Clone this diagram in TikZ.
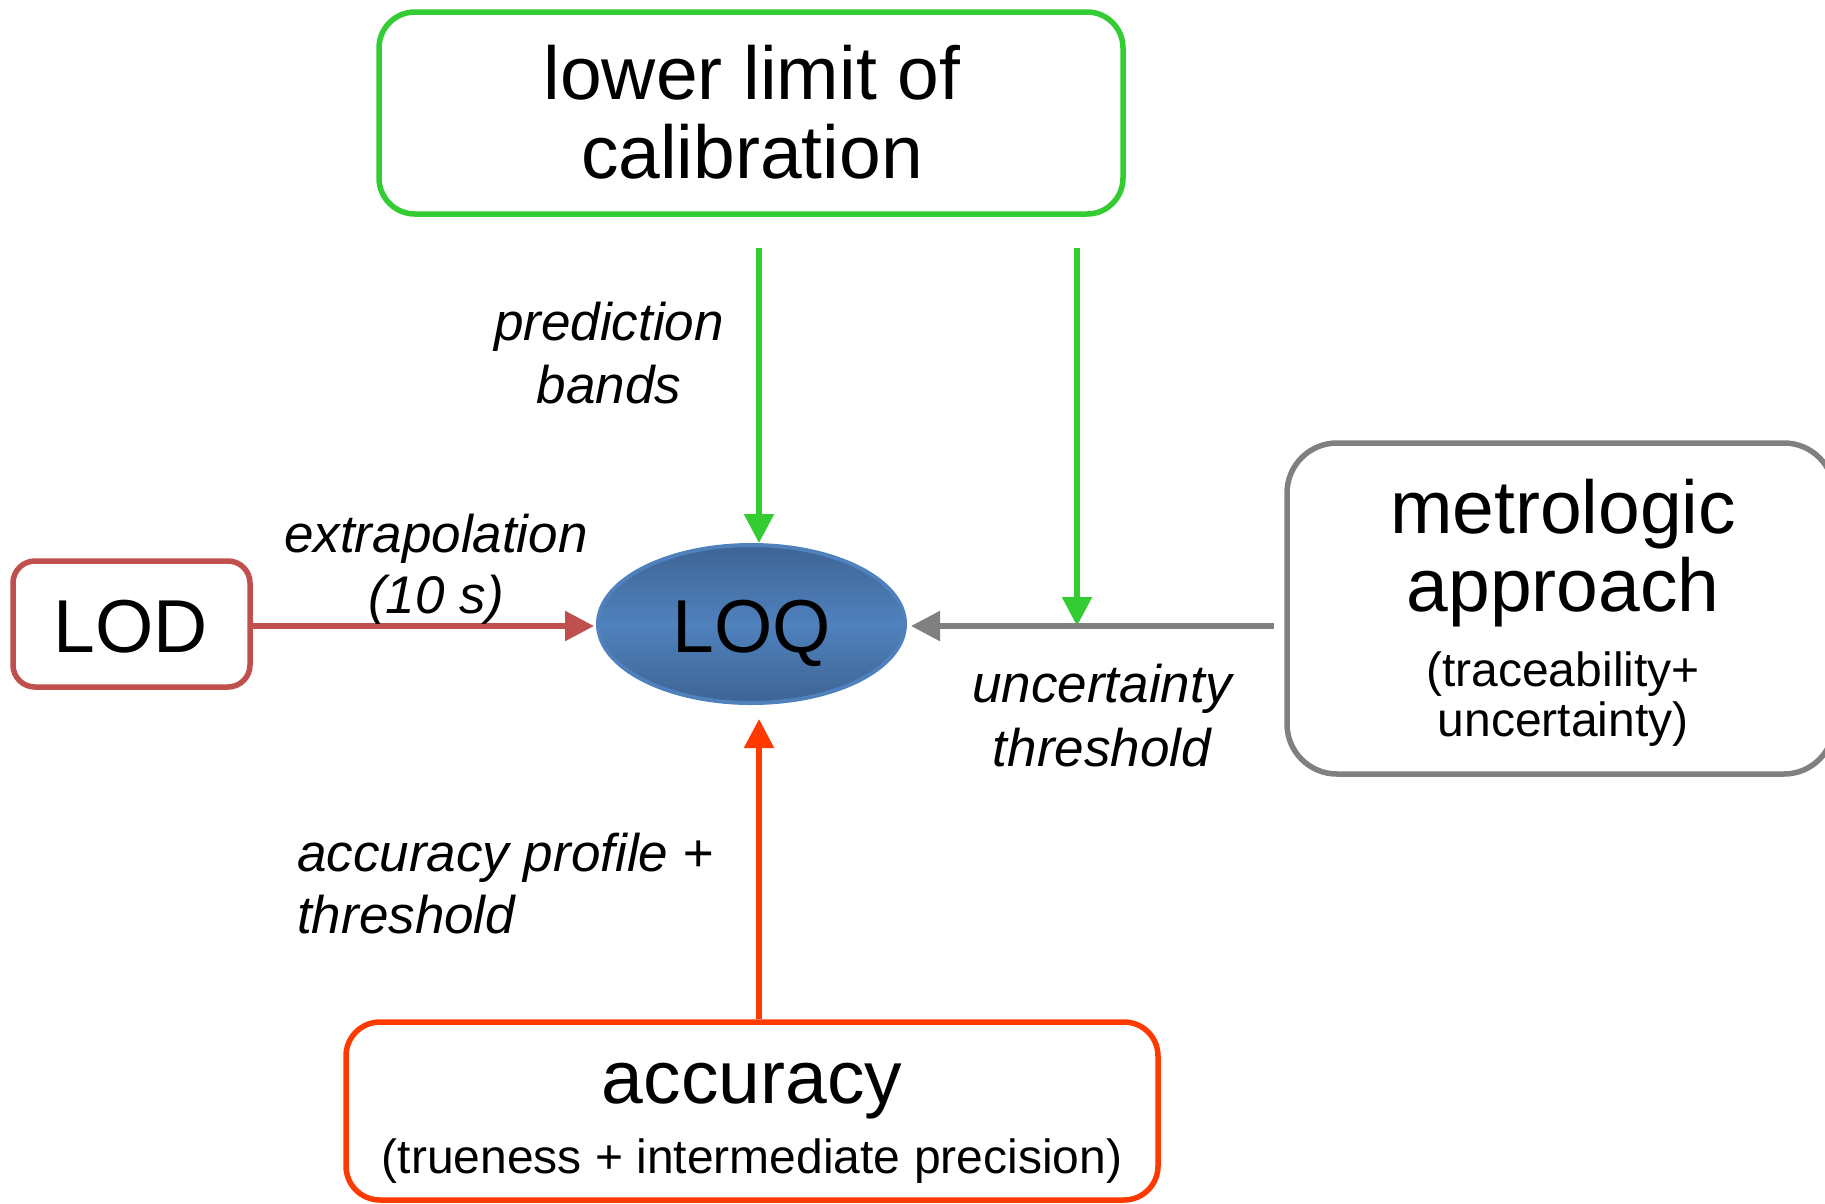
\documentclass[tikz,border=0pt]{standalone}
\usepackage{fontspec}
\setmainfont{Liberation Sans}
\usetikzlibrary{arrows.meta,shapes.geometric}

\definecolor{calgreen}{RGB}{51,204,51}
\definecolor{lodred}{RGB}{192,80,77}
\definecolor{accred}{RGB}{255,58,0}
\definecolor{metgray}{RGB}{128,128,128}
\definecolor{loqmid}{RGB}{79,129,189}
\definecolor{loqdark}{RGB}{62,100,148}

\tikzset{
  framebox/.style={draw, line width=5.5pt, fill=white, inner sep=0pt},
  bigtext/.style={anchor=base, inner sep=0pt, font=\fontsize{75}{79}\selectfont},
  smalltext/.style={anchor=base, inner sep=0pt, font=\fontsize{48}{52}\selectfont},
  edgelabel/.style={anchor=base, inner sep=0pt, font=\fontsize{53}{63}\selectfont\itshape},
  conn/.style={line width=5.5pt, -{Triangle[length=29pt,width=29pt]}},
}

\begin{document}
\begin{tikzpicture}[x=1pt,y=-1pt]
\useasboundingbox (0,0) rectangle (1825,1203);
\clip (0,0) rectangle (1825,1203);

% boxes
\node[framebox, draw=calgreen, rounded corners=36pt, minimum width=744pt, minimum height=202pt] (calib) at (751,113) {};
\node[framebox, draw=lodred, rounded corners=22pt, minimum width=237pt, minimum height=126pt] (lod) at (131.5,624) {};
\node[framebox, draw=metgray, rounded corners=50pt, minimum width=547pt, minimum height=331pt] (metro) at (1560.5,608.5) {};
\node[framebox, draw=accred, rounded corners=34pt, minimum width=812pt, minimum height=178pt] (acc) at (752,1111) {};

% central ellipse
\node[ellipse, draw=loqmid, line width=4pt, top color=loqdark, bottom color=loqdark, middle color=loqmid,
      minimum width=307pt, minimum height=158pt, inner sep=0pt] (loq) at (751.5,624) {};

% box texts
\node[bigtext] (calibA) at (752,99) {lower limit of};
\node[bigtext] (calibB) at (752,178) {calibration};
\node[bigtext] (lodT) at (131,652) {LOD};
\node[bigtext] (loqT) at (752,652) {LOQ};
\node[bigtext] (metroA) at (1563,533) {metrologic};
\node[bigtext] (metroB) at (1563,611) {approach};
\node[smalltext] (metroC) at (1563,686) {(traceability+};
\node[smalltext] (metroD) at (1563,736) {uncertainty)};
\node[bigtext] (accA) at (752,1103) {accuracy};
\node[smalltext] (accB) at (752,1173) {(trueness + intermediate precision)};

% connector end points
\coordinate (g1s) at (759,248);
\coordinate (g2s) at (1077,248);
\coordinate (g2e) at (1077,626);
\coordinate (grs) at (1274,626);
\coordinate (lodE) at (594,626);
\coordinate (accE) at (759,719);
\coordinate (grE) at (911,626);

% connectors
\draw[conn, calgreen] (g1s) -- (g1s |- loq.north);
\draw[conn, calgreen] (g2s) -- (g2e);
\draw[conn, metgray] (grs) -- (grE);
\draw[conn, lodred] (lod.east |- lodE) -- (lodE);
\draw[conn, accred] (acc.north -| accE) -- (accE);

% connector labels
\node[edgelabel] (predA) at (609,340) {prediction};
\node[edgelabel] (predB) at (609,403) {bands};
\node[edgelabel] (extA) at (436,552) {extrapolation};
\node[edgelabel] (extB) at (436,613) {(10 s)};
\node[edgelabel] (uncA) at (1102,702) {uncertainty};
\node[edgelabel] (uncB) at (1102,766) {threshold};
\node[edgelabel, anchor=base west] (profA) at (297,871) {accuracy profile +};
\node[edgelabel, anchor=base west] (profB) at (297,933) {threshold};
\end{tikzpicture}
\end{document}
